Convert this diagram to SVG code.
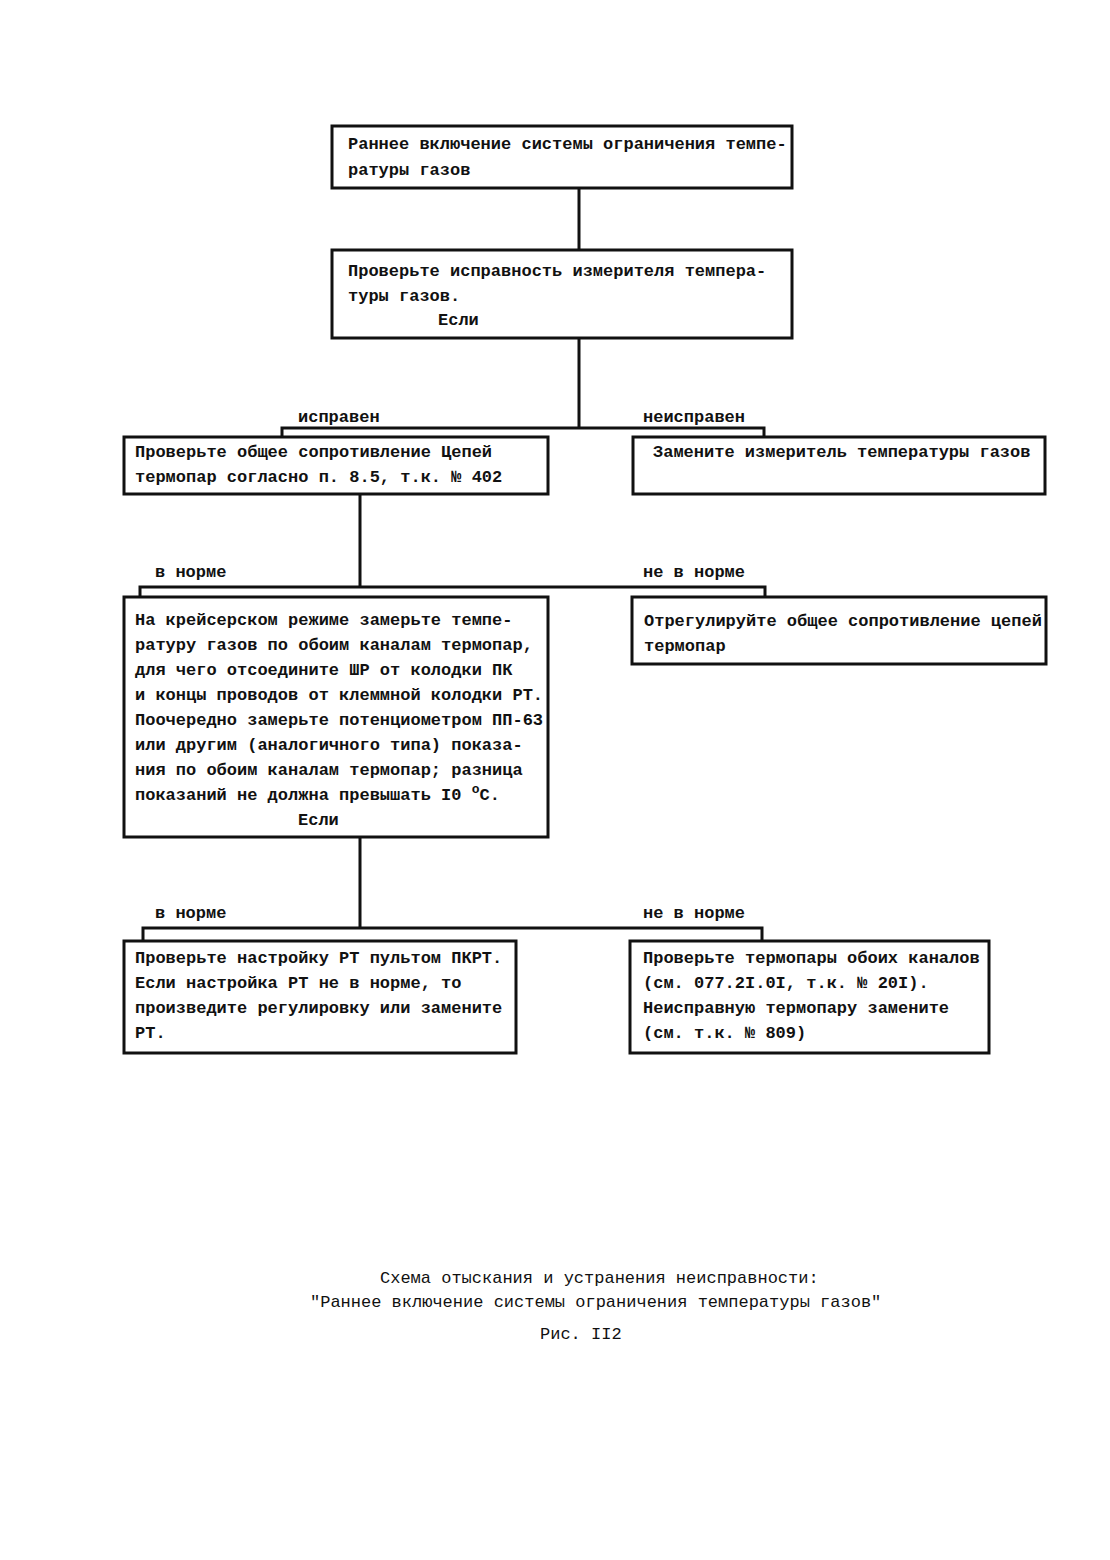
<svg xmlns="http://www.w3.org/2000/svg" width="1110" height="1560" viewBox="0 0 1110 1560">
<style>
.box{fill:none;stroke:#111;stroke-width:3}
.ln{fill:none;stroke:#111;stroke-width:3}
text{font-family:"Liberation Mono","DejaVu Sans Mono",monospace;font-size:17px;font-weight:bold;fill:#111}
.cap{font-weight:normal}
</style>
<rect width="1110" height="1560" fill="#fff"/>
<g id="connectors">
<path class="ln" d="M579,188 V250"/>
<path class="ln" d="M579,338 V428 M282,437 V428 H764 V437"/>
<path class="ln" d="M360,495 V587 M140,597 V587 H765 V597"/>
<path class="ln" d="M360,838 V928 M143,940 V928 H762 V940"/>
<text x="298" y="422">исправен</text>
<text x="643" y="422">неисправен</text>
<text x="155" y="577">в норме</text>
<text x="643" y="577">не в норме</text>
<text x="155" y="918">в норме</text>
<text x="643" y="918">не в норме</text>
</g>
<g id="n1">
<rect class="box" x="332" y="126" width="460" height="62"/>
<text x="348" y="149">Раннее включение системы ограничения темпе-</text>
<text x="348" y="175">ратуры газов</text>
</g>
<g id="n2">
<rect class="box" x="332" y="250" width="460" height="88"/>
<text x="348" y="276">Проверьте исправность измерителя темпера-</text>
<text x="348" y="301">туры газов.</text>
<text x="438" y="325">Если</text>
</g>
<g id="n3">
<rect class="box" x="124" y="437" width="424" height="57"/>
<text x="135" y="457">Проверьте общее сопротивление Цепей</text>
<text x="135" y="482">термопар согласно п. 8.5, т.к. № 402</text>
</g>
<g id="n4">
<rect class="box" x="633" y="437" width="412" height="57"/>
<text x="653" y="457">Замените измеритель температуры газов</text>
</g>
<g id="n5">
<rect class="box" x="124" y="597" width="424" height="240"/>
<text x="135" y="625">На крейсерском режиме замерьте темпе-</text>
<text x="135" y="650">ратуру газов по обоим каналам термопар,</text>
<text x="135" y="675">для чего отсоедините ШР от колодки ПК</text>
<text x="135" y="700">и концы проводов от клеммной колодки РТ.</text>
<text x="135" y="725">Поочередно замерьте потенциометром ПП-63</text>
<text x="135" y="750">или другим (аналогичного типа) показа-</text>
<text x="135" y="775">ния по обоим каналам термопар; разница</text>
<text x="135" y="800">показаний не должна превышать I0 <tspan dy="-7" font-size="13">o</tspan><tspan dy="7">C.</tspan></text>
<text x="298" y="825">Если</text>
</g>
<g id="n6">
<rect class="box" x="632" y="597" width="414" height="67"/>
<text x="644" y="626">Отрегулируйте общее сопротивление цепей</text>
<text x="644" y="651">термопар</text>
</g>
<g id="n7">
<rect class="box" x="124" y="941" width="392" height="112"/>
<text x="135" y="963">Проверьте настройку РТ пультом ПКРТ.</text>
<text x="135" y="988">Если настройка РТ не в норме, то</text>
<text x="135" y="1013">произведите регулировку или замените</text>
<text x="135" y="1038">РТ.</text>
</g>
<g id="n8">
<rect class="box" x="630" y="941" width="359" height="112"/>
<text x="643" y="963">Проверьте термопары обоих каналов</text>
<text x="643" y="988">(см. 077.2I.0I, т.к. № 20I).</text>
<text x="643" y="1013">Неисправную термопару замените</text>
<text x="643" y="1038">(см. т.к. № 809)</text>
</g>
<g id="caption">
<text class="cap" x="380" y="1283">Схема отыскания и устранения неисправности:</text>
<text class="cap" x="310" y="1307">"Раннее включение системы ограничения температуры газов"</text>
<text class="cap" x="540" y="1339">Рис. II2</text>
</g>
</svg>
